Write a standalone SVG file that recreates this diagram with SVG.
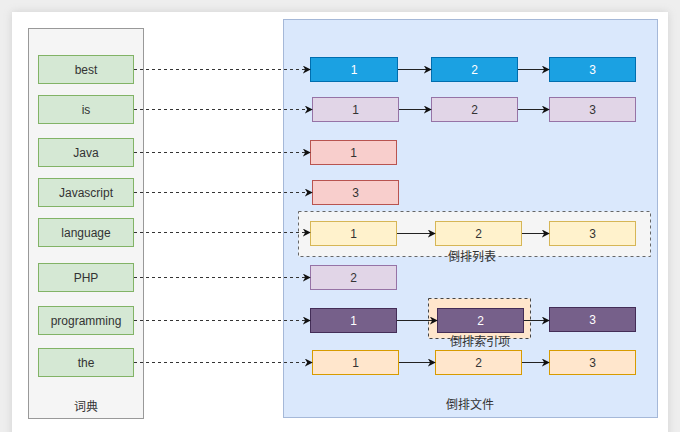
<svg xmlns="http://www.w3.org/2000/svg" width="680" height="432" viewBox="0 0 680 432">
<defs>
<style>
text{font-family:"Liberation Sans","Noto Sans CJK SC",sans-serif;font-size:12px;text-anchor:middle;dominant-baseline:central;fill:#333}
.w{fill:#d5e8d4;stroke:#82b366;stroke-width:1}
.blue{fill:#1ba1e2;stroke:#006eaf}
.lp{fill:#e1d5e7;stroke:#9673a6}
.red{fill:#f8cecc;stroke:#b85450}
.yel{fill:#fff2cc;stroke:#d6b656}
.dp{fill:#76608a;stroke:#432d57}
.or{fill:#ffe6cc;stroke:#d79b00}
.wt{fill:#fff}
.dash{stroke:#333;stroke-width:1;stroke-dasharray:3 3;fill:none}
.solid{stroke:#222;stroke-width:1;fill:none}
</style>
<marker id="ah" viewBox="0 0 10 10" refX="9" refY="5" markerWidth="8" markerHeight="8" orient="auto" markerUnits="userSpaceOnUse"><path d="M0,0 L10,5 L0,10 L3,5 Z" fill="#111"/></marker>
<filter id="sh" x="-5%" y="-5%" width="110%" height="110%"><feGaussianBlur stdDeviation="4"/></filter>
</defs>
<rect width="680" height="432" fill="#eeeeee"/>
<rect x="12" y="12" width="656" height="440" fill="#999" opacity="0.35" filter="url(#sh)"/>
<rect x="12" y="12" width="656" height="440" fill="#ffffff"/>

<g id="dict">
<rect x="28.5" y="28.5" width="115" height="390" fill="#f5f5f5" stroke="#999"/>
<text x="86" y="407" font-size="12">词典</text>
</g>
<g id="file">
<rect x="283.5" y="19.5" width="374" height="398" fill="#dae8fc" stroke="#a5b8d8"/>
<text x="470" y="405" font-size="12.5">倒排文件</text>
</g>
<g id="listgroup">
<rect x="298.5" y="211.5" width="352" height="45" fill="#f5f5f5" stroke="#666" stroke-dasharray="3 3"/>
<text x="472" y="257" font-size="12">倒排列表</text>
</g>
<g id="itemgroup">
<rect x="428.5" y="298.5" width="102" height="40" fill="#ffe6cc" stroke="#444" stroke-dasharray="3 3"/>
<text x="480" y="342" font-size="11.5">倒排索引项</text>
</g>

<g id="w-best"><rect class="w" x="38.5" y="55.5" width="95" height="28"/><text x="86" y="69.5">best</text></g>
<g id="w-is"><rect class="w" x="38.5" y="95.5" width="95" height="28"/><text x="86" y="109.5">is</text></g>
<g id="w-java"><rect class="w" x="38.5" y="138.5" width="95" height="28"/><text x="86" y="152.5">Java</text></g>
<g id="w-js"><rect class="w" x="38.5" y="178.5" width="95" height="28"/><text x="86" y="192.5">Javascript</text></g>
<g id="w-lang"><rect class="w" x="38.5" y="218.5" width="95" height="28"/><text x="86" y="232.5">language</text></g>
<g id="w-php"><rect class="w" x="38.5" y="263.5" width="95" height="28"/><text x="86" y="277.5">PHP</text></g>
<g id="w-prog"><rect class="w" x="38.5" y="306.5" width="95" height="28"/><text x="86" y="320.5">programming</text></g>
<g id="w-the"><rect class="w" x="38.5" y="348.5" width="95" height="28"/><text x="86" y="362.5">the</text></g>

<g id="best1"><rect class="blue" x="310.5" y="57.5" width="87" height="24"/><text class="wt" x="354" y="69.5">1</text></g>
<g id="best2"><rect class="blue" x="431.5" y="57.5" width="86" height="24"/><text class="wt" x="474.5" y="69.5">2</text></g>
<g id="best3"><rect class="blue" x="549.5" y="57.5" width="86" height="24"/><text class="wt" x="592.5" y="69.5">3</text></g>

<g id="is1"><rect class="lp" x="312.5" y="97.5" width="86" height="24"/><text x="355.5" y="109.5">1</text></g>
<g id="is2"><rect class="lp" x="431.5" y="97.5" width="86" height="24"/><text x="474.5" y="109.5">2</text></g>
<g id="is3"><rect class="lp" x="549.5" y="97.5" width="86" height="24"/><text x="592.5" y="109.5">3</text></g>

<g id="java1"><rect class="red" x="310.5" y="140.5" width="86" height="24"/><text x="353.5" y="152.5">1</text></g>
<g id="js3"><rect class="red" x="312.5" y="180.5" width="86" height="24"/><text x="355.5" y="192.5">3</text></g>

<g id="lang1"><rect class="yel" x="310.5" y="221.5" width="86" height="24"/><text x="353.5" y="233.5">1</text></g>
<g id="lang2"><rect class="yel" x="435.5" y="221.5" width="86" height="24"/><text x="478.5" y="233.5">2</text></g>
<g id="lang3"><rect class="yel" x="549.5" y="221.5" width="86" height="24"/><text x="592.5" y="233.5">3</text></g>

<g id="php2"><rect class="lp" x="310.5" y="265.5" width="86" height="24"/><text x="353.5" y="277.5">2</text></g>

<g id="prog1"><rect class="dp" x="310.5" y="308.5" width="86" height="24"/><text class="wt" x="353.5" y="320.5">1</text></g>
<g id="prog2"><rect class="dp" x="437.5" y="308.5" width="86" height="24"/><text class="wt" x="480.5" y="320.5">2</text></g>
<g id="prog3"><rect class="dp" x="549.5" y="307.5" width="86" height="24"/><text class="wt" x="592.5" y="319.5">3</text></g>

<g id="the1"><rect class="or" x="312.5" y="350.5" width="86" height="24"/><text x="355.5" y="362.5">1</text></g>
<g id="the2"><rect class="or" x="435.5" y="350.5" width="86" height="24"/><text x="478.5" y="362.5">2</text></g>
<g id="the3"><rect class="or" x="549.5" y="350.5" width="86" height="24"/><text x="592.5" y="362.5">3</text></g>

<g id="connectors">
<path class="dash" d="M134,69.5 H310" marker-end="url(#ah)"/>
<path class="dash" d="M134,109.5 H312" marker-end="url(#ah)"/>
<path class="dash" d="M134,152.5 H310" marker-end="url(#ah)"/>
<path class="dash" d="M134,192.5 H312" marker-end="url(#ah)"/>
<path class="dash" d="M134,232.5 H310" marker-end="url(#ah)"/>
<path class="dash" d="M134,277.5 H310" marker-end="url(#ah)"/>
<path class="dash" d="M134,320.5 H310" marker-end="url(#ah)"/>
<path class="dash" d="M134,362.5 H312" marker-end="url(#ah)"/>
<path class="solid" d="M398,69.5 H431" marker-end="url(#ah)"/>
<path class="solid" d="M518,69.5 H549" marker-end="url(#ah)"/>
<path class="solid" d="M399,109.5 H431" marker-end="url(#ah)"/>
<path class="solid" d="M518,109.5 H549" marker-end="url(#ah)"/>
<path class="solid" d="M397,233.5 H435" marker-end="url(#ah)"/>
<path class="solid" d="M522,233.5 H549" marker-end="url(#ah)"/>
<path class="solid" d="M397,320.5 H437" marker-end="url(#ah)"/>
<path class="solid" d="M524,320.5 H549" marker-end="url(#ah)"/>
<path class="solid" d="M399,362.5 H435" marker-end="url(#ah)"/>
<path class="solid" d="M522,362.5 H549" marker-end="url(#ah)"/>
</g>
</svg>
